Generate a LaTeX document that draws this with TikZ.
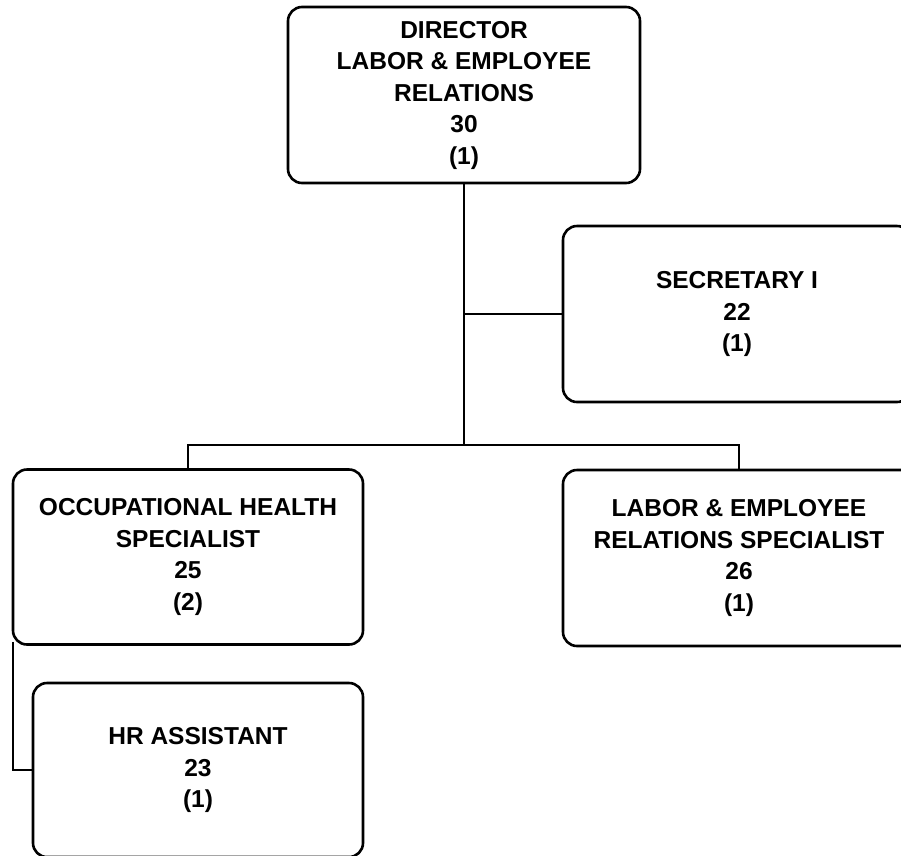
\documentclass[tikz,border=0pt]{standalone}
\usepackage{fontspec}
\setmainfont{Liberation Sans}
\usetikzlibrary{calc}

\tikzset{
  post/.style={draw, rounded corners=14pt, line width=2.6pt, align=center,
    minimum height=176pt, inner sep=0pt,
    font=\bfseries\fontsize{24.5}{31.5}\selectfont},
  link/.style={line width=1.9pt}
}

\begin{document}
\begin{tikzpicture}[x=1pt,y=-1pt]
              \useasboundingbox (0,0) rectangle (901,855);
              \clip (0,0) rectangle (901,855);
              % boxes
              \node[post,minimum width=352pt](dir)at(464,95){DIRECTOR\\LABOR \& EMPLOYEE\\RELATIONS\\30\\(1)};
              \node[post,minimum width=348pt](sec)at(737,314){SECRETARY I\\22\\(1)};
              \node[post,minimum width=350pt,minimum height=175pt](ohs)at(188,557){OCCUPATIONAL HEALTH\\SPECIALIST\\25\\(2)};
              \node[post,minimum width=352pt](lers)at(739,558){LABOR \& EMPLOYEE\\RELATIONS SPECIALIST\\26\\(1)};
              \node[post,minimum width=330pt,minimum height=174pt](hra)at(198,770){HR ASSISTANT\\23\\(1)};
              % lines
              \coordinate(bus)at(464,445);
              \draw[link](dir.south)--(bus);
              \draw[link](dir.south |- sec.west)--(sec.west);
              \draw[link](ohs.north)|-(bus)-|(lers.north);
              \draw[link]($(ohs.south west)+(1,-4)$)|-(hra.west);
            \end{tikzpicture}
\end{document}
